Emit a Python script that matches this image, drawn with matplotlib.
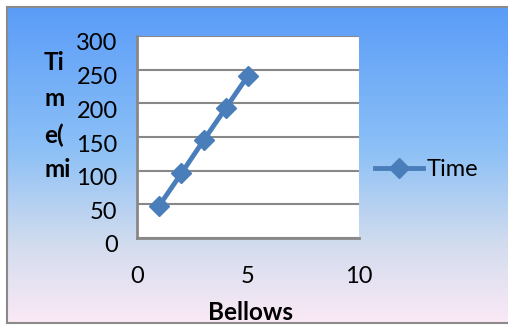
import numpy as np
import matplotlib.pyplot as plt
import matplotlib.transforms as mtransforms
from matplotlib.colors import LinearSegmentedColormap

bellows = [1, 2, 3, 4, 5]
time_vals = [48, 96, 145, 193, 241]
xticks = [0, 5, 10]
yticks = [0, 50, 100, 150, 200, 250, 300]

plt.rcParams['font.family'] = ['Lato', 'DejaVu Sans']

W, H = 508, 327
fig = plt.figure(figsize=(W / 100, H / 100), dpi=100)
fig.patch.set_facecolor('white')

# gradient background panel with grey frame
bg = fig.add_axes([7 / W, 1 - 323 / H, 1 - 7 / W, (323 - 7) / H])
cmap = LinearSegmentedColormap.from_list(
    'bg', [(0, '#5a9cf8'), (0.45, '#8cc0f6'), (0.75, '#d2dcee'), (1, '#fbe9f6')])
grad = np.linspace(0, 1, 256).reshape(-1, 1)
bg.imshow(grad, aspect='auto', cmap=cmap, extent=[0, 1, 0, 1], origin='upper')
bg.set_xticks([])
bg.set_yticks([])
for s in ['top', 'left', 'bottom']:
    bg.spines[s].set_color('#8a8a8a')
    bg.spines[s].set_linewidth(1.5)
bg.spines['right'].set_visible(False)

ax = fig.add_axes([137 / W, 1 - 238 / H, (359 - 137) / W, (238 - 36) / H])
ax.set_facecolor('white')
color = '#4a7ebb'
line, = ax.plot(bellows, time_vals, color=color, lw=3.5, marker='D', markersize=10.5,
                label='Time', clip_on=False)
ax.set_xlim(0, 10)
ax.set_ylim(0, 300)
ax.set_xticks(xticks)
ax.set_yticks(yticks)
ax.yaxis.grid(True, color='#888888', lw=1.5)
ax.set_axisbelow(True)
ax.tick_params(length=0, labelsize=17)
ax.tick_params(axis='x', pad=20)
ax.tick_params(axis='y', pad=14)
for s in ['top', 'right']:
    ax.spines[s].set_visible(False)
for s in ['left', 'bottom']:
    ax.spines[s].set_color('#888888')
    ax.spines[s].set_linewidth(2)

off = mtransforms.ScaledTranslation(0, -6 / 100, fig.dpi_scale_trans)
for lab in ax.get_yticklabels():
    lab.set_transform(lab.get_transform() + off)

fig.text(250 / W, 1 - 312 / H, 'Bellows', fontsize=17.5, fontweight='bold',
         ha='center', va='center')
for txt, yy in zip(['Ti', 'm', 'e(', 'mi'], [63, 99, 135, 170]):
    fig.text(44 / W, 1 - yy / H, txt, fontsize=17.5, fontweight='bold',
             ha='left', va='center')

leg = fig.legend(handles=[line], loc='center left',
                 bbox_to_anchor=(366 / W, 1 - 170 / H), frameon=False,
                 fontsize=17, handlelength=2.0, handletextpad=0.15,
                 borderaxespad=0)

plt.savefig('out.png', dpi=100)
